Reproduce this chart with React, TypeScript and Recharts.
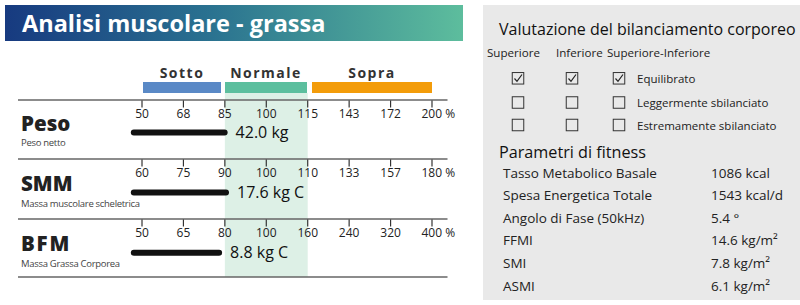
import { BarChart, Bar, XAxis, YAxis, ReferenceArea, LabelList } from 'recharts'

const FONT = '"Open Sans", "Noto Sans", sans-serif'

// rows of the muscle / fat analysis
const rowNames = ['Peso', 'SMM', 'BFM']
const rowNotes = ['Peso netto', 'Massa muscolare scheletrica', 'Massa Grassa Corporea']
const rowValues = [42.0, 17.6, 8.8]
const rowUnits = ['kg', 'kg C', 'kg C']
const rowPercent = [86, 91, 79]

// tick labels (% of normal) for each row
const pesoTicks = [50, 68, 85, 100, 115, 143, 172, 200]
const smmTicks = [60, 75, 90, 100, 110, 133, 157, 180]
const bfmTicks = [50, 65, 80, 100, 160, 240, 320, 400]
const rowTicks = [pesoTicks, smmTicks, bfmTicks]

const rangeLabels = ['Sotto', 'Normale', 'Sopra']
const rangeColors = ['#5a89c6', '#5cbf9e', '#f39c0a']

const balanceColumns = ['Superiore', 'Inferiore', 'Superiore-Inferiore']
const balanceLevels = ['Equilibrato', 'Leggermente sbilanciato', 'Estremamente sbilanciato']
const balanceChecked = [0, 0, 0]

const fitnessLabels = [
  'Tasso Metabolico Basale',
  'Spesa Energetica Totale',
  'Angolo di Fase (50kHz)',
  'FFMI',
  'SMI',
  'ASMI',
]
const fitnessValues = ['1086 kcal', '1543 kcal/d', '5.4 °', '14.6 kg/m²', '7.8 kg/m²', '6.1 kg/m²']

// bars start a little left of the first tick
const BAR_BASE = -0.27
const CHART_TOP = 92
const SEP_Y = [100, 159, 219, 277]

// position on the piecewise tick scale (tick index units)
const toPos = (v: number, ticks: number[]) => {
  for (let i = 0; i < ticks.length - 1; i++) {
    if (v <= ticks[i + 1]) return i + (v - ticks[i]) / (ticks[i + 1] - ticks[i])
  }
  return ticks.length - 1
}

const data = rowNames.map((name, i) => ({
  row: i,
  name,
  range: [BAR_BASE, toPos(rowPercent[i], rowTicks[i])],
  label: `${rowValues[i].toFixed(1)} ${rowUnits[i]}`,
}))

const tickIdx = pesoTicks.map((_, i) => i)

function AxisTick(props: any) {
  const { x, payload } = props
  const i = payload.value
  const last = i === tickIdx.length - 1
  return (
    <g>
      {rowTicks.map((ticks, r) => {
        const top = SEP_Y[r] - CHART_TOP
        return (
          <g key={r}>
            <line x1={x} x2={x} y1={top} y2={top + 7.5} stroke="#333" strokeWidth={1.2} />
            <text
              x={last ? x - 10.5 : x}
              y={top + 18}
              textAnchor={last ? 'start' : 'middle'}
              fontSize={12}
              fill="#222"
              style={{ fontFamily: FONT }}
            >
              {ticks[i]}{last ? ' %' : ''}
            </text>
          </g>
        )
      })}
    </g>
  )
}

function RowTick(props: any) {
  const { y, payload } = props
  const i = payload.value
  return (
    <g style={{ fontFamily: FONT }}>
      <text x={21} y={y - 1.5} fontSize={20.5} fontWeight={800} fill="#222" letterSpacing={i === 2 ? 1.8 : 0}>
        {rowNames[i]}
      </text>
      <text x={21} y={y + 14} fontSize={9.5} fill="#444" letterSpacing={-0.3}>
        {rowNotes[i]}
      </text>
    </g>
  )
}

function RoundBar(props: any) {
  const { x, y, width, height } = props
  return <rect x={x} y={y} width={width} height={height} rx={height / 2} fill="#111" />
}

function CheckBox({ x, y, checked }: { x: number; y: number; checked: boolean }) {
  return (
    <g>
      <rect x={x - 5.75} y={y - 5.75} width={11.5} height={11.5} fill="none" stroke="#333" strokeWidth={1} />
      {checked && (
        <path
          d={`M${x - 3.5} ${y + 0.2} L${x - 1} ${y + 3} L${x + 4} ${y - 3.8}`}
          fill="none"
          stroke="#222"
          strokeWidth={1.2}
        />
      )}
    </g>
  )
}

export default function App() {
  const colX = [518, 572, 619]
  const rowY = [78.3, 102.5, 125]
  return (
    <div
      style={{
        position: 'absolute',
        left: 0,
        top: 0,
        width: 800,
        height: 305,
        background: '#fff',
        overflow: 'hidden',
        fontFamily: FONT,
      }}
    >
      <svg width={800} height={305} style={{ position: 'absolute', left: 0, top: 0 }}>
        <defs>
          <linearGradient id="hdr" x1="0" x2="1" y1="0" y2="0">
            <stop offset="0%" stopColor="#173a80" />
            <stop offset="45%" stopColor="#2a7290" />
            <stop offset="100%" stopColor="#5dbd9d" />
          </linearGradient>
        </defs>
        {/* Header */}
        <rect x={5} y={5} width={458} height={36} fill="url(#hdr)" />
        <text x={22} y={31.5} fontSize={23.5} fontWeight={700} fill="#fff" style={{ fontFamily: FONT }}>
          Analisi muscolare - grassa
        </text>

        {/* Range legend */}
        {[
          [143, 78],
          [225, 82],
          [312, 120],
        ].map(([lx, lw], i) => (
          <g key={rangeLabels[i]}>
            <rect x={lx} y={82} width={lw} height={11} fill={rangeColors[i]} />
            <text
              x={lx + lw / 2}
              y={77.5}
              textAnchor="middle"
              fontSize={14}
              fontWeight={700}
              letterSpacing={1.5}
              fill="#333"
              style={{ fontFamily: FONT }}
            >
              {rangeLabels[i]}
            </text>
          </g>
        ))}

        {/* Right panel */}
        <rect x={483} y={5} width={317} height={295} fill="#e9e9e9" />
        <g style={{ fontFamily: FONT }} fill="#111">
          <text x={499} y={35} fontSize={16}>Valutazione del bilanciamento corporeo</text>
          {balanceColumns.map((c, i) => (
            <text key={c} x={[487, 556, 607][i]} y={57} fontSize={11.6} fill="#222">{c}</text>
          ))}
          {balanceLevels.map((lv, r) => (
            <g key={lv}>
              {colX.map((cx, c) => (
                <CheckBox key={c} x={cx} y={rowY[r]} checked={balanceChecked[c] === r} />
              ))}
              <text x={637} y={rowY[r] + 4.5} fontSize={11.5} fill="#222">{lv}</text>
            </g>
          ))}
          <text x={499} y={157.5} fontSize={16.2}>Parametri di fitness</text>
          {fitnessLabels.map((l, i) => (
            <g key={l}>
              <text x={503} y={177.5 + i * 22.6} fontSize={13.5} fill="#222">{l}</text>
              <text x={711} y={177.5 + i * 22.6} fontSize={13.5} fill="#222">{fitnessValues[i]}</text>
            </g>
          ))}
        </g>
      </svg>

      <div style={{ position: 'absolute', left: 0, top: CHART_TOP }}>
        <BarChart
          layout="vertical"
          width={460}
          height={SEP_Y[3] - CHART_TOP}
          data={data}
          margin={{ top: 0, right: 7.29, bottom: 0, left: 120.29 }}
        >
          <XAxis
            type="number"
            orientation="top"
            domain={[-0.5, 7.5]}
            ticks={tickIdx}
            interval={0}
            height={1}
            axisLine={false}
            tickLine={false}
            tick={(p: any) => <AxisTick {...p} />}
          />
          <YAxis
            type="number"
            dataKey="row"
            domain={[-0.656, 2.4]}
            ticks={[0, 1, 2]}
            interval={0}
            width={1}
            axisLine={false}
            tickLine={false}
            tick={(p: any) => <RowTick {...p} />}
          />
          <ReferenceArea x1={2} x2={4} fill="#ddf0e6" fillOpacity={1} stroke="none" />
          <Bar dataKey="range" barSize={6} isAnimationActive={false} shape={(p: any) => <RoundBar {...p} />}>
            <LabelList
              dataKey="label"
              position="right"
              offset={8}
              style={{ fontSize: 16, fill: '#111', fontFamily: FONT }}
            />
          </Bar>
        </BarChart>
      </div>

      {/* row separators */}
      <svg width={800} height={305} style={{ position: 'absolute', left: 0, top: 0, pointerEvents: 'none' }}>
        {SEP_Y.map(y => (
          <line key={y} x1={18} x2={447.5} y1={y} y2={y} stroke="#666" strokeWidth={1.5} />
        ))}
      </svg>
    </div>
  )
}
